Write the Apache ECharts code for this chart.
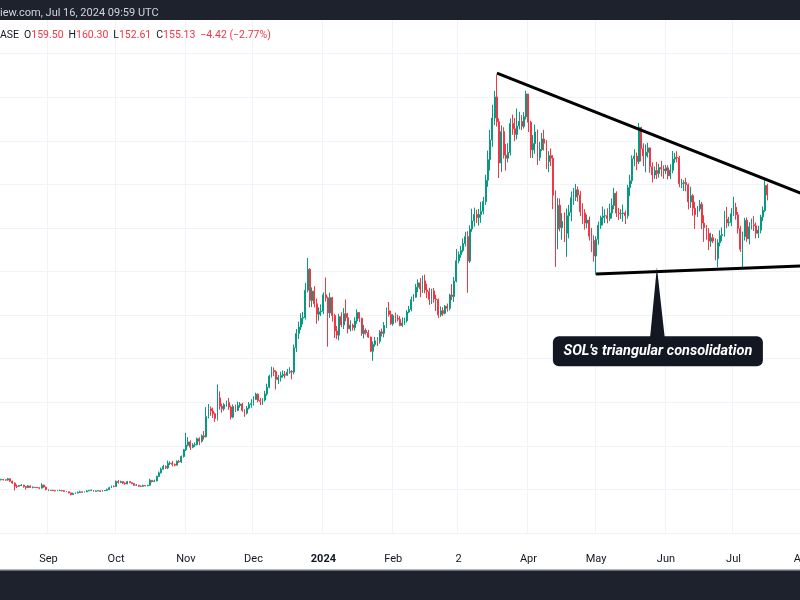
<!DOCTYPE html>
<html>
<head>
<meta charset="utf-8">
<script src="https://cdn.jsdelivr.net/npm/echarts@6/dist/echarts.min.js"></script>
<style>
html,body{margin:0;padding:0;background:#ffffff;}
#chart{width:800px;height:600px;}
</style>
</head>
<body>
<div id="chart"></div>
<script>
// ---------- DATA (daily SOL/USD candles, Aug 11 2023 .. Jul 16 2024) ----------
const startDate = '2023-08-11';
const dayCount = 357;            // axis runs to Aug 1 2024 (empty future space)
const firstOpen = 24.5;          // open of Aug 11 2023; every later open = previous close

const closes = [
  // Aug 2023 (11-31)
  24.6,24.4,24.3,24.9,23.8,22.9,21.5,21.4,21.8,22.0,21.3,20.8,21.6,20.9,21.0,20.9,20.8,20.6,22.0,21.1,19.9,
  // Sep
  19.5,19.6,19.5,19.3,19.5,19.5,19.4,19.1,18.9,18.4,17.6,18.1,18.3,18.6,18.9,18.7,18.9,19.3,19.5,19.6,19.1,19.3,19.4,19.1,19.5,19.5,19.9,20.8,21.4,21.3,
  // Oct
  23.7,23.2,23.6,22.9,22.5,23.6,23.1,22.7,21.9,21.9,21.5,21.4,21.8,21.6,21.9,24.2,23.6,23.9,26.0,27.6,29.3,30.6,29.9,32.0,32.1,31.5,31.1,32.9,32.6,35.1,38.2,
  // Nov
  40.3,41.8,39.4,40.4,40.5,43.3,42.1,44.6,44.1,53.4,57.0,56.0,54.7,52.6,62.0,58.2,57.0,58.9,59.9,57.8,53.2,58.0,56.2,58.5,59.2,56.3,55.0,57.3,59.0,59.4,
  // Dec
  61.3,63.7,60.8,60.4,61.0,63.8,66.9,72.0,74.6,74.0,70.4,71.4,72.2,72.8,72.4,73.8,74.1,73.9,85.0,91.5,94.5,98.6,98.9,111.4,121.0,106.7,111.0,105.2,100.4,101.5,101.8,
  // Jan 2024
  109.3,107.9,101.0,108.0,99.8,92.7,90.8,99.3,95.5,100.6,98.8,93.7,95.4,94.3,97.3,101.2,98.5,91.5,93.0,92.0,89.9,83.4,86.5,88.2,88.0,92.3,91.6,95.2,102.0,100.3,96.0,
  // Feb
  99.7,98.5,98.1,95.2,96.4,97.4,101.4,102.6,107.0,108.2,112.8,114.8,112.0,115.7,111.5,110.8,107.2,111.1,107.4,107.1,100.1,102.0,100.8,104.1,103.1,109.2,108.5,115.6,124.9,
  // Mar
  127.7,129.6,132.8,136.0,124.8,139.5,143.2,146.2,144.8,146.1,147.6,152.1,161.9,171.3,180.4,190.4,200.1,188.7,169.8,184.2,173.4,172.0,174.6,187.9,185.5,182.9,186.8,188.9,186.6,191.0,201.5,
  // Apr
  188.5,175.8,178.7,184.0,172.3,176.0,180.8,178.9,170.5,173.2,172.0,155.0,139.5,150.4,140.1,143.0,137.5,145.6,147.2,153.9,154.2,157.5,155.1,147.4,146.9,142.2,143.6,136.2,134.3,127.1,
  // May
  134.8,141.2,144.8,145.5,145.6,144.3,146.8,150.3,155.9,146.8,146.6,146.6,146.9,145.6,158.5,161.7,171.7,173.0,170.4,186.2,176.4,173.1,174.7,176.7,168.1,164.3,166.3,165.0,167.7,167.0,166.2,
  // Jun
  167.6,163.9,166.5,171.6,172.4,172.2,160.3,160.5,160.8,159.8,152.0,154.8,149.0,146.0,148.7,150.9,142.2,140.1,137.4,133.9,135.5,134.0,126.0,133.2,136.5,137.0,144.0,142.3,142.6,146.5,
  // Jul (1-16)
  149.5,146.0,139.7,130.2,136.0,143.5,135.0,140.5,141.5,141.0,137.5,139.0,145.0,148.0,159.5,155.13
];

const highs = [
  24.9,24.8,24.6,25.3,25.0,24.0,23.2,22.3,22.0,22.4,22.1,21.4,22.0,21.8,21.4,21.1,21.1,20.9,22.8,22.2,21.3,
  20.0,19.8,19.8,19.7,19.8,19.9,19.7,19.6,19.2,19.0,18.5,18.5,18.6,19.1,19.4,19.0,19.1,19.7,19.8,20.0,19.7,19.5,19.6,19.5,19.7,19.7,20.4,21.2,21.8,21.8,
  24.1,24.3,24.0,23.6,23.3,23.9,23.5,23.2,22.8,22.4,22.1,21.8,22.2,21.9,22.1,24.9,24.3,24.5,26.3,28.2,30.0,31.3,31.0,33.2,32.9,33.1,31.9,33.3,33.6,35.6,38.6,
  46.0,44.0,42.5,41.2,41.6,43.8,43.9,45.2,46.8,57.8,59.2,58.1,57.5,55.3,68.2,65.0,59.4,59.6,60.8,62.0,58.5,59.0,58.9,60.3,60.1,59.7,56.8,58.3,60.1,61.4,
  62.7,64.4,64.1,62.0,61.8,65.2,68.5,72.6,76.3,76.0,74.7,72.5,74.0,74.6,74.3,75.3,76.1,74.8,86.5,93.6,97.0,100.8,101.5,114.8,126.2,121.6,112.7,113.3,107.6,103.6,104.9,
  110.4,117.2,108.5,110.3,108.4,100.6,95.0,100.6,101.3,103.2,107.2,101.0,97.6,96.1,99.0,102.6,101.4,98.8,95.5,93.9,93.2,90.1,87.9,90.0,89.9,93.1,93.8,96.8,103.5,106.0,102.0,
  100.5,101.1,100.2,99.6,98.9,98.8,102.3,104.2,108.5,109.6,114.3,116.4,117.0,118.1,118.6,114.4,112.5,112.1,112.4,109.3,107.6,104.0,103.6,104.6,105.3,109.8,114.2,117.5,130.3,
  129.2,131.7,135.2,138.2,138.5,141.2,148.8,149.3,148.3,148.7,152.0,154.2,164.4,175.5,185.0,196.5,202.9,210.2,190.3,187.0,186.2,178.5,178.9,190.3,192.0,190.4,194.8,193.3,191.8,193.1,203.0,
  197.5,189.2,182.6,187.4,185.1,179.5,183.6,185.0,180.3,175.2,176.5,173.4,157.2,153.7,153.5,146.8,147.1,148.9,150.6,156.7,158.3,160.2,159.0,157.0,151.3,148.6,146.1,145.2,140.0,136.6,
  136.2,142.9,145.6,149.8,148.6,149.0,151.1,153.5,158.4,156.8,149.2,148.6,150.7,148.0,159.8,164.4,173.3,176.1,174.6,188.1,185.6,178.8,178.3,179.1,176.9,170.1,168.2,170.3,169.4,170.8,168.7,
  168.9,168.8,169.2,175.3,174.5,175.2,173.0,162.5,161.9,163.0,160.4,158.9,155.5,152.0,150.1,152.8,152.0,145.8,141.3,139.9,137.8,137.2,135.2,134.8,138.9,140.2,147.8,149.6,145.1,149.1,
  154.3,151.5,147.3,141.0,138.3,144.6,144.8,142.6,144.3,145.4,142.5,141.0,146.0,149.8,161.9,160.3
];

const lows = [
  24.1,24.1,24.0,24.0,23.5,22.6,19.5,20.6,21.2,21.5,20.8,19.9,20.6,20.7,20.5,20.6,20.6,20.1,20.4,20.8,19.6,
  19.2,19.3,19.3,19.1,19.2,19.3,19.1,18.9,18.8,18.2,17.3,17.6,17.9,18.2,18.4,18.5,18.6,18.8,19.2,19.3,18.9,19.0,19.2,18.9,19.0,19.2,19.3,19.7,20.7,21.0,
  21.3,22.6,22.9,22.5,22.2,22.4,22.9,22.4,21.6,21.6,21.2,21.1,21.3,21.4,21.5,21.8,23.2,23.4,23.7,25.7,27.3,29.1,29.4,29.3,31.2,30.6,30.6,31.0,32.2,32.2,34.6,
  37.6,39.7,38.1,38.9,39.5,40.2,40.3,41.5,42.9,43.9,52.6,53.8,52.8,51.0,51.6,56.6,55.2,56.1,58.0,56.5,52.1,52.7,55.5,55.9,57.5,55.6,53.3,54.4,56.7,57.5,
  58.5,61.0,60.0,58.7,58.8,60.3,63.0,66.4,71.3,72.0,65.9,68.4,69.5,71.3,70.9,72.1,73.1,70.5,72.8,83.1,89.0,93.1,95.8,98.0,110.4,103.5,103.7,103.5,96.0,97.4,99.6,
  100.4,106.2,85.5,98.7,97.0,89.5,89.0,88.4,94.4,93.6,97.1,91.6,92.5,92.9,92.9,96.0,96.8,90.5,89.3,91.0,89.5,83.0,79.0,85.5,85.8,86.9,90.2,89.8,94.1,99.3,95.5,
  95.1,96.5,97.1,94.9,94.6,95.5,96.6,100.9,101.7,106.2,108.0,110.5,108.2,110.2,110.0,107.8,104.6,105.1,105.7,101.9,98.7,99.2,99.6,100.3,101.6,102.1,106.9,106.1,115.0,
  123.7,126.3,128.8,131.5,110.2,123.9,138.2,140.6,142.2,141.0,142.3,146.2,150.6,158.9,166.3,177.2,187.2,186.5,162.9,165.6,171.8,166.3,170.1,173.3,182.7,179.8,180.6,185.2,184.9,185.6,189.8,
  184.0,172.1,172.0,174.0,168.9,170.8,175.2,175.5,167.0,165.6,168.4,148.6,122.1,130.2,138.4,134.6,133.5,126.7,135.2,143.1,150.6,152.4,152.1,145.4,141.7,139.2,139.8,134.2,128.9,124.5,
  118.5,132.3,139.5,141.2,142.2,142.1,143.2,144.3,148.6,145.0,143.6,144.1,142.9,141.8,144.2,154.6,160.2,168.3,166.5,169.3,170.5,168.4,165.5,172.3,165.3,160.9,162.5,162.4,163.1,163.6,162.6,
  164.7,162.3,162.5,165.1,169.8,170.1,158.7,158.3,156.9,156.8,148.5,149.2,145.6,139.5,145.0,147.5,139.5,133.6,134.6,129.8,131.3,133.0,125.1,122.0,131.5,133.9,136.0,139.9,140.7,140.8,
  145.5,143.8,137.4,129.0,121.8,134.2,133.6,132.4,139.3,138.6,135.2,135.4,137.5,143.1,147.2,152.61
];

// x-axis tick labels (month starts)
const tickLabels = [
  ['2023-09-01','Sep'],['2023-10-01','Oct'],['2023-11-01','Nov'],['2023-12-01','Dec'],
  ['2024-01-01','2024'],['2024-02-01','Feb'],['2024-03-01','2'],['2024-04-01','Apr'],
  ['2024-05-01','May'],['2024-06-01','Jun'],['2024-07-01','Jul'],['2024-08-01','Aug']
];

// y-axis gridlines
const yMin = 0, yMax = 240, yStep = 20;

// drawn trend lines (date, price)
const upperTrend = [['2024-03-18', 211.0], ['2024-08-01', 155.5]];
const lowerTrend = [['2024-05-01', 118.8], ['2024-08-01', 122.6]];

// callout
const calloutAnchor = ['2024-05-28', 122.0];
const calloutText = "SOL's triangular consolidation";

// header texts
const headerText = 'iew.com, Jul 16, 2024 09:59 UTC';
const ohlcParts = [['ASE', ''], ['O', '159.50'], ['H', '160.30'], ['L', '152.61'], ['C', '155.13'], ['', '\u22124.42 (\u22122.77%)']];

// ---------- BUILD ----------
const dates = [];
{
  const p = startDate.split('-').map(Number);
  const t0 = Date.UTC(p[0], p[1] - 1, p[2]);
  for (let i = 0; i < dayCount; i++) {
    dates.push(new Date(t0 + i * 86400000).toISOString().slice(0, 10));
  }
}
const opens = [firstOpen].concat(closes.slice(0, -1));
const candles = closes.map((c, i) => {
  const o = opens[i];
  return [o, c, Math.min(lows[i], o, c), Math.max(highs[i], o, c)];
});

const labelMap = Object.fromEntries(tickLabels);
const isTick = (idx, val) => labelMap[val] !== undefined;

const FONT = 'Roboto, "Noto Sans", sans-serif';
const GREEN = '#089981', RED = '#f23645', DARK = '#1e222d';

const chart = echarts.init(document.getElementById('chart'), null, {renderer: 'canvas'});

chart.setOption({
  animation: false,
  backgroundColor: '#ffffff',
  grid: {left: 0, top: 10, width: 804.5, height: 523, containLabel: false, outerBoundsMode: 'none'},
  xAxis: {
    type: 'category',
    data: dates,
    boundaryGap: true,
    axisLine: {show: false},
    axisTick: {show: false, interval: isTick},
    axisLabel: {
      interval: isTick,
      margin: 21,
      color: '#131722',
      fontSize: 11,
      fontFamily: FONT,
      formatter: v => labelMap[v] === '2024' ? '{b|2024}' : (labelMap[v] || ''),
      rich: {b: {fontWeight: 'bold', fontSize: 11, color: '#131722', fontFamily: FONT}}
    },
    splitLine: {show: true, interval: isTick, lineStyle: {color: '#f0f3fa', width: 1}}
  },
  yAxis: {
    type: 'value',
    min: yMin, max: yMax, interval: yStep,
    axisLine: {show: false}, axisTick: {show: false}, axisLabel: {show: false},
    splitLine: {show: true, lineStyle: {color: '#f0f3fa', width: 1}}
  },
  series: [
    {
      type: 'candlestick',
      data: candles,
      barWidth: '62%',
      itemStyle: {color: GREEN, color0: RED, borderColor: GREEN, borderColor0: RED, borderWidth: 1}
    },
    {
      type: 'line', data: upperTrend, symbol: 'none', z: 5,
      lineStyle: {color: '#000000', width: 3}
    },
    {
      type: 'line', data: lowerTrend, symbol: 'none', z: 5,
      lineStyle: {color: '#000000', width: 3}
    }
  ]
});

// ---------- overlay: header, footer, callout ----------
const anc = chart.convertToPixel({xAxisIndex: 0, yAxisIndex: 0}, [dates.indexOf(calloutAnchor[0]), calloutAnchor[1]]);
const ax = anc[0], ay = anc[1];

let ohlcRich = '';
ohlcParts.forEach((p, i) => {
  if (p[0]) ohlcRich += '{k|' + p[0] + '}';
  if (p[1]) ohlcRich += '{v|' + p[1] + '}';
  if (i < ohlcParts.length - 1) ohlcRich += '{s| }';
});

const SMALL = '10.5px ' + FONT;
chart.setOption({
  graphic: [
    {type: 'rect', z: 100, shape: {x: 0, y: 0, width: 800, height: 20}, style: {fill: DARK}},
    {type: 'text', z: 101, x: 0, y: 13, style: {text: headerText, fill: '#d1d4dc', font: '11px ' + FONT, verticalAlign: 'middle'}},
    {type: 'text', z: 101, x: 0, y: 35, style: {
      text: ohlcRich, verticalAlign: 'middle', font: SMALL,
      rich: {
        k: {fill: '#131722', font: SMALL},
        v: {fill: RED, font: SMALL},
        s: {font: SMALL, width: 5}
      }
    }},
    {type: 'rect', z: 100, shape: {x: 0, y: 570, width: 800, height: 30}, style: {fill: DARK}},
    {type: 'rect', z: 101, shape: {x: 0, y: 569, width: 800, height: 1.5}, style: {fill: '#b2b5be'}},
    {type: 'polygon', z: 110, shape: {points: [[ax, ay], [ax - 7, ay + 72], [ax + 8, ay + 72]]}, style: {fill: '#131722'}},
    {type: 'rect', z: 110, shape: {x: ax - 104, y: ay + 69, width: 210, height: 30, r: 6}, style: {fill: '#131722'}},
    {type: 'text', z: 111, x: ax + 1, y: ay + 84, style: {
      text: calloutText, fill: '#ffffff', font: 'italic bold 14.5px ' + FONT,
      align: 'center', verticalAlign: 'middle'
    }}
  ]
});
</script>
</body>
</html>
